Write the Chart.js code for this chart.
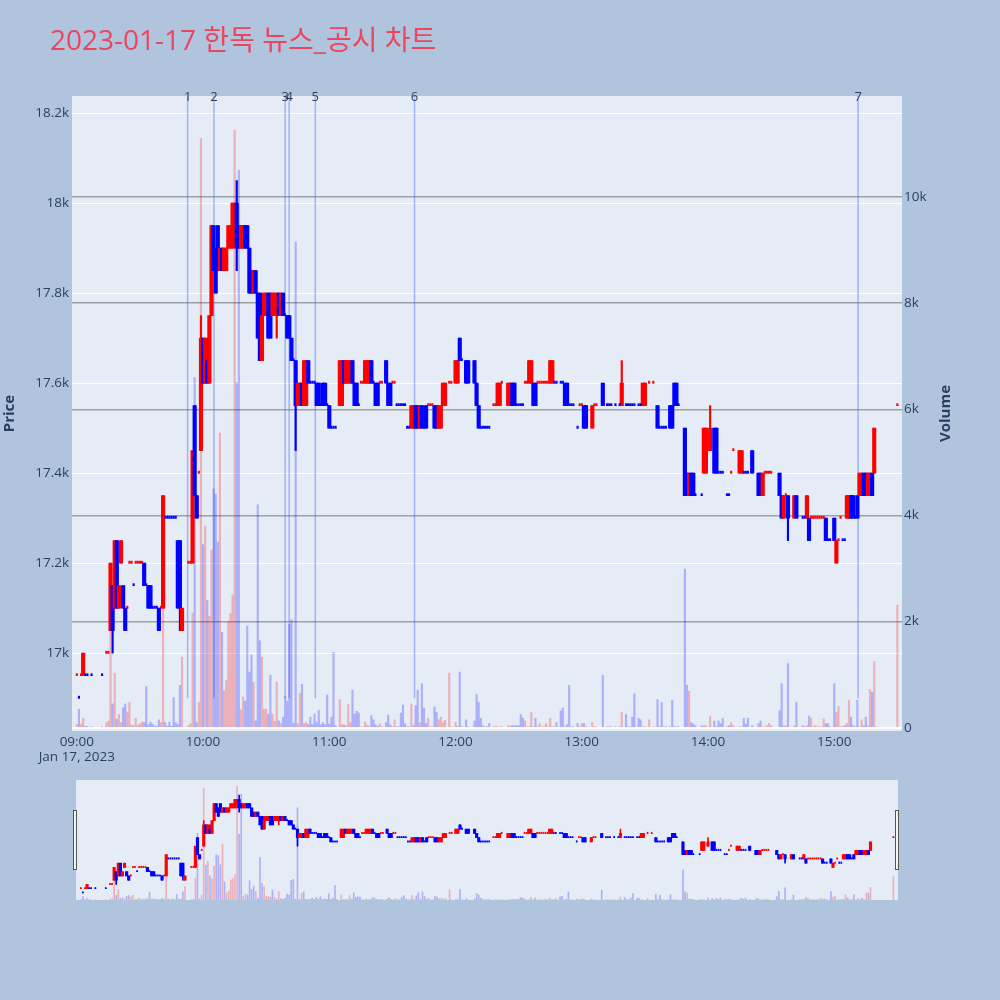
<!DOCTYPE html>
<html><head><meta charset="utf-8">
<script src="https://cdn.jsdelivr.net/npm/chart.js@4.4.1/dist/chart.umd.min.js"></script>
<style>
html,body{margin:0;padding:0;background:#b0c4de;}
#wrap{position:relative;width:1000px;height:1000px;overflow:hidden;background:#b0c4de;}
#main{position:absolute;left:0;top:0;}
#slider{position:absolute;left:76px;top:780px;background:#e5ecf6;}
.handle{position:absolute;top:810px;width:2px;height:58px;background:#f4f4f4;border:1px solid #555;}
</style></head>
<body><div id="wrap">
<canvas id="main" width="1000" height="1000"></canvas>
<canvas id="slider" width="822" height="120"></canvas>
<div class="handle" style="left:73px"></div>
<div class="handle" style="left:895px"></div>
</div>
<script>
// ---- data (minutes after 09:00, 1-minute candles) ----
const minutes = [
0,1,2,3,4,5,7,12,14,15,16,17,18,19,20,21,22,23,24,25,26,27,28,29,30,31,32,33,34,35,36,37,38,39,40,41,42,43,44,45,46,47,48,49,50,53,54,55,56,57,58,59,
60,61,62,63,64,65,66,67,68,69,70,71,72,73,74,75,76,77,78,79,80,81,82,83,84,85,86,87,88,89,90,91,92,93,94,95,96,97,98,99,100,101,102,103,104,105,106,107,108,109,110,111,112,113,114,115,116,117,118,119,120,121,122,123,
125,126,127,128,129,130,131,132,133,134,135,136,137,138,139,140,141,142,143,144,145,147,148,149,150,151,152,153,154,155,156,157,158,159,160,161,162,163,164,165,166,167,168,169,170,171,172,173,174,175,177,178,180,181,182,183,185,186,189,190,191,192,193,194,195,196,198,199,200,201,202,
205,206,207,208,209,210,211,212,213,214,215,216,217,218,219,220,221,222,223,224,225,226,227,228,230,231,232,233,234,235,236,238,239,240,241,242,245,246,247,250,252,253,254,256,258,259,261,262,263,264,265,267,268,269,270,272,274,276,277,278,279,280,282,283,284,285,286,
289,290,291,292,293,294,297,298,299,301,303,304,305,306,307,309,310,311,312,315,316,317,318,319,321,324,325,326,327,328,329,330,334,335,336,337,338,341,342,345,346,347,348,349,350,351,352,353,354,355,356,357,358,360,361,362,363,364,365,366,367,368,369,370,371,372,373,374,375,376,377,378,379,390
];
const opens = [
16950,16900,16950,16950,16950,16950,16950,16950,17000,17000,17050,17150,17100,17250,17100,17200,17150,17100,17100,17200,17200,17150,17200,17200,17200,17200,17200,17150,17150,17150,17100,17100,17100,17100,17100,17100,17300,17300,17300,17300,17300,17300,17250,17250,17050,17200,17200,17200,17550,17350,17400,17450,
17700,17600,17650,17600,17750,17950,17900,17950,17850,17900,17850,17850,17900,17900,17900,17950,18000,17950,17900,17900,17950,17950,17900,17850,17800,17850,17800,17800,17650,17750,17750,17800,17800,17750,17750,17750,17800,17750,17800,17750,17750,17750,17700,17650,17650,17550,17550,17600,17550,17550,17650,17600,17600,17600,17600,17600,17550,17600,17600,17550,17550,17500,17500,17500,
17550,17550,17650,17600,17600,17600,17650,17600,17600,17550,17600,17600,17600,17600,17600,17650,17600,17600,17600,17600,17600,17650,17600,17600,17600,17600,17550,17550,17550,17550,17550,17500,17500,17500,17500,17550,17550,17500,17550,17500,17550,17550,17550,17550,17550,17550,17500,17500,17550,17550,17600,17600,17600,17600,17700,17650,17650,17650,17650,17600,17550,17500,17500,17500,17500,17500,17550,17550,17550,17550,17600,
17550,17550,17600,17600,17550,17550,17550,17550,17600,17600,17600,17600,17600,17600,17600,17600,17600,17600,17600,17600,17600,17600,17600,17600,17600,17600,17600,17600,17550,17550,17550,17500,17550,17550,17550,17550,17500,17550,17550,17600,17550,17550,17550,17550,17550,17550,17550,17550,17550,17550,17550,17550,17550,17550,17550,17600,17600,17550,17500,17500,17500,17500,17550,17550,17600,17600,17550,
17500,17400,17350,17400,17400,17350,17350,17400,17400,17450,17500,17500,17400,17400,17400,17350,17350,17400,17450,17400,17400,17400,17400,17400,17450,17400,17400,17350,17400,17400,17400,17400,17400,17350,17300,17350,17350,17300,17350,17300,17300,17300,17300,17300,17300,17300,17300,17300,17300,17300,17300,17250,17250,17300,17200,17250,17300,17250,17250,17300,17300,17350,17350,17300,17350,17350,17350,17400,17400,17350,17350,17400,17400,17550
];
const highs = [
16950,16900,16950,17000,16950,16950,16950,16950,17000,17000,17200,17150,17250,17250,17150,17250,17150,17100,17100,17200,17200,17150,17200,17200,17200,17200,17200,17150,17150,17150,17100,17100,17100,17100,17100,17350,17300,17300,17300,17300,17300,17300,17250,17250,17100,17200,17200,17450,17550,17350,17400,17750,
17700,17700,17700,17750,17950,17950,17900,17950,17900,17900,17900,17900,17950,17950,18000,18000,18050,17950,17950,17950,17950,17950,17900,17850,17850,17850,17800,17800,17800,17800,17800,17800,17800,17800,17800,17800,17800,17800,17800,17750,17750,17750,17700,17650,17650,17600,17600,17600,17650,17650,17650,17600,17600,17600,17600,17600,17550,17600,17600,17550,17550,17500,17500,17500,
17650,17650,17650,17650,17650,17650,17650,17600,17600,17550,17600,17600,17650,17650,17650,17650,17600,17600,17600,17600,17600,17650,17600,17600,17600,17600,17550,17550,17550,17550,17550,17500,17500,17550,17550,17550,17550,17550,17550,17500,17550,17550,17550,17550,17550,17550,17550,17550,17600,17600,17600,17600,17650,17650,17700,17650,17650,17650,17650,17600,17550,17500,17500,17500,17500,17500,17550,17550,17600,17600,17600,
17600,17600,17600,17600,17550,17550,17550,17550,17600,17600,17650,17650,17600,17600,17600,17600,17600,17600,17600,17600,17650,17650,17600,17600,17600,17600,17600,17600,17550,17550,17550,17500,17550,17550,17550,17550,17550,17550,17550,17600,17550,17550,17550,17550,17550,17650,17550,17550,17550,17550,17550,17550,17550,17600,17600,17600,17600,17550,17500,17500,17500,17500,17550,17550,17600,17600,17550,
17500,17400,17400,17400,17400,17350,17350,17500,17500,17550,17500,17500,17400,17400,17400,17350,17350,17400,17450,17450,17450,17400,17400,17400,17450,17400,17400,17400,17400,17400,17400,17400,17400,17350,17350,17350,17350,17350,17350,17300,17300,17350,17300,17300,17300,17300,17300,17300,17300,17300,17300,17250,17250,17300,17250,17250,17300,17250,17250,17350,17350,17350,17350,17300,17350,17400,17400,17400,17400,17400,17400,17400,17500,17550
];
const lows = [
16950,16900,16950,16950,16950,16950,16950,16950,17000,17000,17050,17000,17100,17100,17100,17200,17100,17050,17100,17200,17200,17150,17200,17200,17200,17200,17150,17150,17100,17100,17100,17100,17100,17050,17100,17100,17300,17300,17300,17300,17300,17300,17100,17050,17050,17200,17200,17200,17350,17300,17400,17450,
17600,17600,17600,17600,17750,17850,17800,17850,17850,17850,17850,17850,17900,17900,17900,17900,17850,17900,17900,17900,17900,17900,17800,17800,17800,17800,17700,17650,17650,17750,17750,17700,17700,17750,17750,17700,17750,17750,17750,17750,17700,17700,17650,17650,17450,17550,17550,17550,17550,17550,17600,17600,17600,17600,17550,17550,17550,17550,17550,17550,17500,17500,17500,17500,
17550,17550,17600,17600,17600,17600,17600,17550,17550,17550,17600,17600,17600,17600,17600,17600,17600,17550,17550,17600,17600,17600,17550,17550,17600,17600,17550,17550,17550,17550,17550,17500,17500,17500,17500,17500,17500,17500,17500,17500,17500,17550,17550,17550,17500,17500,17500,17500,17550,17550,17600,17600,17600,17600,17650,17650,17600,17600,17600,17550,17500,17500,17500,17500,17500,17500,17550,17550,17550,17550,17600,
17550,17550,17550,17550,17550,17550,17550,17550,17600,17600,17600,17600,17550,17550,17600,17600,17600,17600,17600,17600,17600,17600,17600,17600,17600,17600,17550,17550,17550,17550,17550,17500,17550,17550,17500,17500,17500,17550,17550,17550,17550,17550,17550,17550,17550,17550,17550,17550,17550,17550,17550,17550,17550,17550,17550,17600,17600,17500,17500,17500,17500,17500,17500,17500,17550,17550,17550,
17350,17350,17350,17350,17350,17350,17350,17400,17400,17450,17400,17400,17400,17400,17400,17350,17350,17400,17450,17400,17400,17400,17400,17400,17400,17350,17350,17350,17400,17400,17400,17400,17350,17300,17300,17350,17250,17300,17300,17300,17300,17300,17250,17300,17300,17300,17300,17300,17300,17300,17250,17250,17250,17250,17200,17250,17300,17250,17250,17300,17300,17300,17300,17300,17300,17350,17350,17350,17350,17350,17350,17350,17400,17550
];
const closes = [
16950,16900,16950,17000,16950,16950,16950,16950,17000,17000,17200,17050,17250,17100,17150,17250,17100,17050,17100,17200,17200,17150,17200,17200,17200,17200,17150,17150,17100,17100,17100,17100,17100,17050,17100,17350,17300,17300,17300,17300,17300,17300,17100,17100,17100,17200,17200,17450,17350,17300,17400,17700,
17600,17700,17600,17750,17950,17850,17800,17850,17900,17850,17900,17900,17950,17950,18000,18000,17900,17900,17950,17950,17900,17900,17800,17800,17850,17800,17700,17650,17750,17800,17800,17700,17700,17800,17800,17800,17750,17800,17750,17750,17700,17700,17650,17650,17550,17600,17600,17550,17650,17650,17600,17600,17600,17600,17550,17550,17550,17550,17550,17550,17500,17500,17500,17500,
17650,17650,17600,17650,17650,17650,17600,17550,17550,17550,17600,17600,17650,17650,17650,17600,17600,17550,17550,17600,17600,17600,17550,17550,17600,17600,17550,17550,17550,17550,17550,17500,17500,17550,17550,17500,17500,17550,17500,17500,17500,17550,17550,17550,17500,17500,17550,17550,17600,17600,17600,17600,17650,17650,17650,17650,17600,17600,17600,17550,17500,17500,17500,17500,17500,17500,17550,17550,17600,17600,17600,
17600,17600,17550,17550,17550,17550,17550,17550,17600,17600,17650,17650,17550,17550,17600,17600,17600,17600,17600,17600,17650,17650,17600,17600,17600,17600,17550,17550,17550,17550,17550,17500,17550,17550,17500,17500,17550,17550,17550,17550,17550,17550,17550,17550,17550,17600,17550,17550,17550,17550,17550,17550,17550,17600,17600,17600,17600,17500,17500,17500,17500,17500,17500,17500,17550,17550,17550,
17350,17350,17400,17350,17350,17350,17350,17500,17500,17500,17400,17400,17400,17400,17400,17350,17350,17400,17450,17450,17450,17400,17400,17400,17400,17350,17350,17400,17400,17400,17400,17400,17350,17300,17350,17350,17300,17350,17300,17300,17300,17350,17250,17300,17300,17300,17300,17300,17300,17300,17250,17250,17250,17250,17250,17250,17300,17250,17250,17350,17350,17300,17300,17300,17300,17400,17400,17350,17350,17400,17400,17350,17500,17550
];
const volumes = [
60,350,70,180,30,20,20,20,100,130,1850,450,1030,160,250,100,380,450,300,480,50,40,180,50,80,110,100,780,60,110,70,30,30,150,100,2300,100,30,110,30,570,100,60,800,1330,40,80,2160,6600,100,480,11100,
3450,3800,2400,2100,3350,4500,4400,3500,5550,1800,700,900,2000,2150,2500,11260,6500,10500,340,580,500,1920,1050,1370,860,130,4200,1640,1330,350,350,260,990,260,120,860,130,80,200,590,500,1950,2040,80,9150,80,650,820,80,100,60,200,60,260,100,330,60,100,60,620,70,200,1420,40,
530,60,50,40,440,100,710,260,310,280,20,20,110,50,30,230,150,60,30,80,20,100,240,60,20,150,20,20,280,430,80,20,20,450,50,420,710,100,830,370,80,180,20,20,390,290,150,200,100,140,1030,20,100,30,1050,20,150,20,130,630,480,180,40,20,20,80,20,30,20,20,20,
40,40,40,40,40,40,250,190,130,20,20,290,20,180,20,80,20,20,80,20,180,20,20,100,320,370,20,60,800,20,20,80,20,80,80,20,100,20,20,990,20,20,20,20,20,290,250,20,20,200,640,180,150,20,20,150,20,530,20,480,20,20,20,520,20,20,20,
2990,800,690,100,70,40,40,40,40,220,130,20,130,80,180,20,40,100,40,20,20,180,70,180,40,80,130,20,20,40,80,40,320,830,40,40,1210,40,480,40,20,40,220,180,20,40,20,20,20,170,80,80,20,830,290,400,20,20,40,80,520,200,40,20,520,20,150,40,200,40,720,670,1250,2310
];
const xTickMinutes = [0,60,120,180,240,300,360];
const xTickLabels = ['09:00','10:00','11:00','12:00','13:00','14:00','15:00'];
const dateLabel = 'Jan 17, 2023';
const priceTicks = [17000,17200,17400,17600,17800,18000,18200];
const volumeTicks = [0,2000,4000,6000,8000,10000];
const newsTimes = ['09:52:40','10:05:10','10:39:00','10:40:55','10:53:20','11:40:30','15:11:20'];
const newsLabels = ['1','2','3','4','5','6','7'];
const titleText = '2023-01-17 한독 뉴스_공시 차트';

// ---- checks ----
[opens,highs,lows,closes,volumes].forEach((a,i)=>{ if(a.length!==minutes.length) throw new Error('length mismatch '+i+': '+a.length+' vs '+minutes.length); });

// ---- style ----
const UP = '#ff0000', DOWN = '#0000ff';
const UP_V = 'rgba(255,0,0,0.25)', DOWN_V = 'rgba(0,0,255,0.25)';
const FONT = "'Open Sans', 'Noto Sans CJK KR', sans-serif";
const TXT = '#2a3f5f';
const X_MIN = -2.3, X_MAX = 392.2;
const P_MIN = 16827, P_MAX = 18238;

const dirs = (() => { let pc = null, pd = 1; return closes.map((c,i) => { const o = opens[i]; let d;
  if (c > o) d = 1; else if (c < o) d = -1; else if (pc !== null && c > pc) d = 1; else if (pc !== null && c < pc) d = -1; else d = pd;
  pc = c; pd = d; return d; }); })();
const toMin = s => { const [h,m,sec] = s.split(':').map(Number); return h*60 + m + (sec||0)/60 - 540; };
const idx = minutes.map((m,i) => i);
const bodyIdx = idx.filter(i => opens[i] !== closes[i]);
const dojiIdx = idx.filter(i => opens[i] === closes[i]);

function makeDatasets(bodyW, dojiW, wickW, volW, minLen) {
  return [
    { label:'Volume', yAxisID:'y2', order:4, grouped:false, barThickness:volW, borderWidth:0,
      data: idx.map(i=>({x:minutes[i], y:volumes[i]})),
      backgroundColor: idx.map(i => dirs[i]>0 ? UP_V : DOWN_V) },
    { label:'Wick', yAxisID:'y', order:3, grouped:false, barThickness:wickW, borderWidth:0,
      data: idx.map(i=>({x:minutes[i], y:[lows[i], highs[i]]})),
      backgroundColor: idx.map(i => dirs[i]>0 ? UP : DOWN) },
    { label:'Body', yAxisID:'y', order:2, grouped:false, barThickness:bodyW, borderWidth:0,
      data: bodyIdx.map(i=>({x:minutes[i], y:[opens[i], closes[i]]})),
      backgroundColor: bodyIdx.map(i => dirs[i]>0 ? UP : DOWN) },
    { label:'Doji', yAxisID:'y', order:1, grouped:false, barThickness:dojiW, borderWidth:0, minBarLength:minLen,
      data: dojiIdx.map(i=>({x:minutes[i], y:[opens[i], closes[i]]})),
      backgroundColor: dojiIdx.map(i => dirs[i]>0 ? UP : DOWN) }
  ];
}

const decor = {
  id: 'decor',
  beforeDraw(chart) {
    const {ctx, chartArea:a} = chart;
    ctx.save(); ctx.fillStyle = '#e5ecf6';
    ctx.fillRect(a.left, a.top, a.right-a.left, a.bottom-a.top); ctx.restore();
  },
  beforeDatasetsDraw(chart) {
    const {ctx, chartArea:a, scales} = chart;
    const yb = scales.y.getPixelForValue(Math.min(...lows));
    ctx.save(); ctx.strokeStyle = 'rgba(70,110,240,0.45)'; ctx.lineWidth = 1.5;
    newsTimes.forEach(t => { const x = scales.x.getPixelForValue(toMin(t));
      ctx.beginPath(); ctx.moveTo(x, a.top); ctx.lineTo(x, yb); ctx.stroke(); });
    ctx.restore();
  },
  afterDraw(chart) {
    const {ctx, chartArea:a, scales} = chart;
    ctx.save();
    ctx.fillStyle = TXT; ctx.font = '13px ' + FONT; ctx.textAlign = 'center'; ctx.textBaseline = 'middle';
    newsTimes.forEach((t,i) => ctx.fillText(newsLabels[i], scales.x.getPixelForValue(toMin(t)), a.top + 1));
    ctx.fillStyle = '#e8475f'; ctx.font = '28px ' + FONT; ctx.textAlign = 'left'; ctx.textBaseline = 'alphabetic';
    ctx.fillText(titleText, 50, 50);
    ctx.fillStyle = TXT; ctx.font = 'bold 15px ' + FONT; ctx.textAlign = 'center'; ctx.textBaseline = 'middle';
    const cy = (a.top + a.bottom)/2;
    ctx.save(); ctx.translate(10, cy); ctx.rotate(-Math.PI/2); ctx.fillText('Price', 0, 0); ctx.restore();
    ctx.save(); ctx.translate(946, cy); ctx.rotate(-Math.PI/2); ctx.fillText('Volume', 0, 0); ctx.restore();
    ctx.restore();
  }
};

const tickFont = { family: FONT, size: 13.5 };

new Chart(document.getElementById('main'), {
  type: 'bar',
  data: { datasets: makeDatasets(3.5, 1.4, 1.5, 1.5, 2) },
  options: {
    responsive: false, animation: false, devicePixelRatio: 1,
    layout: { padding: { top: 96, left: 0, right: 0, bottom: 0 } },
    plugins: { legend: { display: false }, tooltip: { enabled: false } },
    events: [],
    scales: {
      x: { type: 'linear', min: X_MIN, max: X_MAX, offset: false,
        grid: { display: false, drawTicks: false }, border: { display: false },
        afterBuildTicks: s => { s.ticks = xTickMinutes.map(v => ({value: v})); },
        afterFit: s => { s.height = 269; },
        ticks: { autoSkip: false, maxRotation: 0, minRotation: 0, padding: 4, color: TXT, font: {...tickFont, lineHeight: 1.1},
          callback: v => { const i = xTickMinutes.indexOf(v); return i === 0 ? [xTickLabels[0], dateLabel] : xTickLabels[i]; } } },
      y: { type: 'linear', position: 'left', min: P_MIN, max: P_MAX,
        grid: { color: '#ffffff', lineWidth: 1, drawTicks: false }, border: { display: false },
        afterBuildTicks: s => { s.ticks = priceTicks.map(v => ({value: v})); },
        afterFit: s => { s.width = 72; },
        ticks: { padding: 3, color: TXT, font: tickFont, callback: v => (v/1000) + 'k' } },
      y2: { type: 'linear', position: 'right', min: -60, max: 11900,
        grid: { drawTicks: false,
          color: c => (c.tick && c.tick.value === 0) ? '#ffffff' : 'rgba(110,110,110,0.6)',
          lineWidth: c => (c.tick && c.tick.value === 0) ? 2 : 1.5 },
        border: { display: false },
        afterBuildTicks: s => { s.ticks = volumeTicks.map(v => ({value: v})); },
        afterFit: s => { s.width = 98; },
        ticks: { padding: 2, color: TXT, font: tickFont, callback: v => v === 0 ? '0' : (v/1000) + 'k' } }
    }
  },
  plugins: [decor]
});

new Chart(document.getElementById('slider'), {
  type: 'bar',
  data: { datasets: makeDatasets(2.5, 1, 1, 1, 1.2) },
  options: {
    responsive: false, animation: false, devicePixelRatio: 1,
    layout: { padding: 0 },
    plugins: { legend: { display: false }, tooltip: { enabled: false } },
    events: [],
    scales: {
      x: { type: 'linear', min: X_MIN, max: X_MAX, offset: false, display: false },
      y: { type: 'linear', min: P_MIN - 10, max: P_MAX - 10, display: false },
      y2: { type: 'linear', position: 'right', min: 0, max: 11900, display: false }
    }
  }
});
</script></body></html>
